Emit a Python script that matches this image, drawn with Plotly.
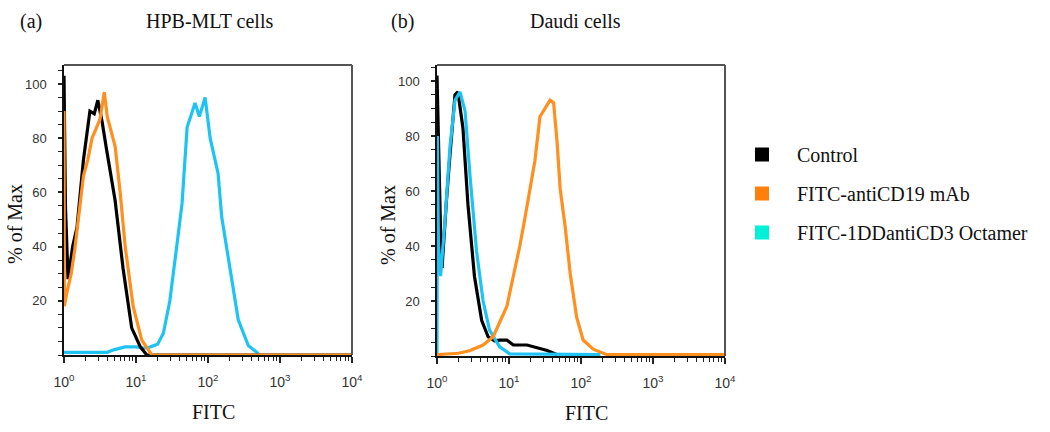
import plotly.graph_objects as go

# ---------------- data (x given as log10(FITC), y as % of Max) ----------------
hpb_control_log = [0, 0.02, 0.056, 0.12, 0.18, 0.27, 0.36, 0.42, 0.47, 0.53, 0.59, 0.71, 0.82, 0.94, 1.06, 1.15, 4.0]
hpb_control_pct = [103, 55, 28, 40, 47, 72, 90, 89, 94, 86, 76, 57, 32, 10, 3, 0, 0]

hpb_cd19_log = [0, 0.005, 0.04, 0.1, 0.15, 0.2, 0.27, 0.33, 0.39, 0.5, 0.56, 0.6, 0.64, 0.71, 0.78, 0.85, 0.96, 1.08, 1.22, 4.0]
hpb_cd19_pct = [90, 18, 23, 30, 39, 50, 66, 72, 80, 87, 97, 88, 84, 77, 60, 40, 18, 5.5, 0, 0]

hpb_oct_log = [0, 0.6, 0.7, 0.85, 1.0, 1.12, 1.2, 1.3, 1.38, 1.47, 1.57, 1.64, 1.71, 1.78, 1.82, 1.88, 1.96, 2.03, 2.14, 2.19, 2.31, 2.42, 2.56, 2.70]
hpb_oct_pct = [1, 1, 2, 3, 3, 2.5, 3, 4, 8, 20, 41, 56, 84, 90, 93, 88, 95, 80, 67, 51, 32, 13, 3.5, 0.5]

daudi_control_log = [0, 0.02, 0.05, 0.07, 0.1, 0.13, 0.18, 0.25, 0.29, 0.36, 0.43, 0.52, 0.62, 0.71, 0.8, 0.87, 0.97, 1.06, 1.25, 1.39, 1.53, 1.67]
daudi_control_pct = [102, 75, 45, 32, 45, 56, 73, 95, 96, 83, 55, 29, 13, 7, 5.5, 5.8, 5.8, 4, 4, 3, 2, 0.5]

daudi_oct_log = [0, 0.005, 0.02, 0.05, 0.11, 0.18, 0.25, 0.32, 0.39, 0.46, 0.55, 0.64, 0.73, 0.87, 1.01, 2.27]
daudi_oct_pct = [0, 80, 40, 29, 49, 76, 93, 96, 89, 65, 38, 20, 9.4, 3.3, 0.8, 0.5]

daudi_cd19_log = [0, 0.3, 0.46, 0.64, 0.78, 0.87, 0.97, 1.06, 1.15, 1.22, 1.29, 1.36, 1.43, 1.5, 1.57, 1.62, 1.67, 1.71, 1.78, 1.85, 1.94, 2.03, 2.17, 2.36, 4.0]
daudi_cd19_pct = [0.5, 1, 2, 4, 7, 12, 18, 29, 40, 50, 60, 71, 87, 90, 93, 92, 77, 61, 47, 30, 14, 5.8, 2.5, 0.5, 0.5]

legend_names = ["Control", "FITC-antiCD19 mAb", "FITC-1DDantiCD3 Octamer"]
legend_colors = ["#000000", "#ff7f0a", "#00f0d8"]

x_tick_vals = [1, 10, 100, 1000, 10000]
x_tick_text = ["10<sup>0</sup>", "10<sup>1</sup>", "10<sup>2</sup>", "10<sup>3</sup>", "10<sup>4</sup>"]
y_tick_vals = [20, 40, 60, 80, 100]

BLACK = "#000000"
ORANGE = "#ff8f1f"
CYAN = "#1ec3f3"
SERIF = "Liberation Serif, Times New Roman, serif"
SANS = "Liberation Sans, Arial, sans-serif"

def fitc(logs):
    return [10 ** v for v in logs]

fig = go.Figure()

def line(xl, y, color, xa, ya):
    fig.add_trace(go.Scatter(x=fitc(xl), y=y, mode="lines", xaxis=xa, yaxis=ya,
                             line=dict(color=color, width=3.2), showlegend=False,
                             hoverinfo="skip"))

# panel (a)
line(hpb_oct_log, hpb_oct_pct, CYAN, "x", "y")
line(hpb_control_log, hpb_control_pct, BLACK, "x", "y")
line(hpb_cd19_log, hpb_cd19_pct, ORANGE, "x", "y")
# panel (b)
line(daudi_control_log, daudi_control_pct, BLACK, "x2", "y2")
line(daudi_oct_log, daudi_oct_pct, CYAN, "x2", "y2")
line(daudi_cd19_log, daudi_cd19_pct, ORANGE, "x2", "y2")

# legend entries
for name, col in zip(legend_names, legend_colors):
    fig.add_trace(go.Scatter(x=[None], y=[None], mode="markers", name=name,
                             legendgroup=name, xaxis="x", yaxis="y",
                             marker=dict(symbol="square", size=14, color=col)))

minor_x = [m * 10 ** d for d in range(4) for m in range(2, 10)]

def xaxis_cfg(domain, anchor):
    return dict(type="log", domain=domain, range=[0, 4], tickvals=x_tick_vals, anchor=anchor,
                ticktext=x_tick_text, ticks="outside", ticklen=6, tickwidth=1.5,
                tickcolor="#222", showline=True, linecolor="#111", linewidth=1.5,
                showgrid=False, zeroline=False, ticklabelstandoff=7, automargin=False,
                tickfont=dict(family=SANS, size=14, color="#333"),
                minor=dict(tickvals=minor_x, ticks="outside", ticklen=4,
                           tickcolor="#222", tickwidth=1.2, showgrid=False))

def yaxis_cfg(domain, top, anchor):
    return dict(domain=domain, range=[0, top], tickvals=y_tick_vals, anchor=anchor,
                ticks="outside", ticklen=4, tickwidth=1.5, tickcolor="#222",
                showline=True, linecolor="#111", linewidth=1.5, showgrid=False,
                zeroline=False, ticklabelstandoff=9, automargin=False,
                tickfont=dict(family=SANS, size=13, color="#333"),
                minor=dict(dtick=5, ticks="outside", ticklen=4, tickcolor="#222",
                           tickwidth=1.2, showgrid=False))

W, H = 1050, 432
fig.update_layout(
    width=W, height=H, margin=dict(l=0, r=0, t=0, b=0, autoexpand=False),
    paper_bgcolor="white", plot_bgcolor="white",
    xaxis=xaxis_cfg([64 / W, 352 / W], "y"),
    yaxis=yaxis_cfg([1 - 355 / H, 1 - 65 / H], 107, "x"),
    xaxis2=xaxis_cfg([437 / W, 725 / W], "y2"),
    yaxis2=yaxis_cfg([1 - 356 / H, 1 - 65 / H], 105.8, "x2"),
    legend=dict(x=727 / W, y=1 - 135 / H, xanchor="left", yanchor="top",
                font=dict(family=SERIF, size=20, color="#111"),
                tracegroupgap=10, itemwidth=60, bgcolor="rgba(0,0,0,0)"),
    showlegend=True,
)

# gray top / right frame lines
for xr, yr in (("x domain", "y domain"), ("x2 domain", "y2 domain")):
    fig.add_shape(type="line", xref=xr, yref=yr, x0=0, x1=1, y0=1, y1=1,
                  line=dict(color="#555", width=2))
    fig.add_shape(type="line", xref=xr, yref=yr, x0=1, x1=1, y0=0, y1=1,
                  line=dict(color="#555", width=2))

def ann(text, x, y, size=20, angle=0):
    fig.add_annotation(text=text, x=x / W, y=1 - y / H, xref="paper", yref="paper",
                       showarrow=False, textangle=angle, xanchor="center", yanchor="middle",
                       font=dict(family=SERIF, size=size, color="#111"))

ann("(a)", 31, 21)
ann("HPB-MLT cells", 209, 21)
ann("(b)", 402, 21)
ann("Daudi cells", 575, 21)
ann("% of Max", 15, 224, angle=-90)
ann("% of Max", 388, 225, angle=-90)
ann("FITC", 213, 412)
ann("FITC", 586, 413)

fig.write_html("out.html", config={"displayModeBar": False},
               post_script="document.body.style.margin='0';")
